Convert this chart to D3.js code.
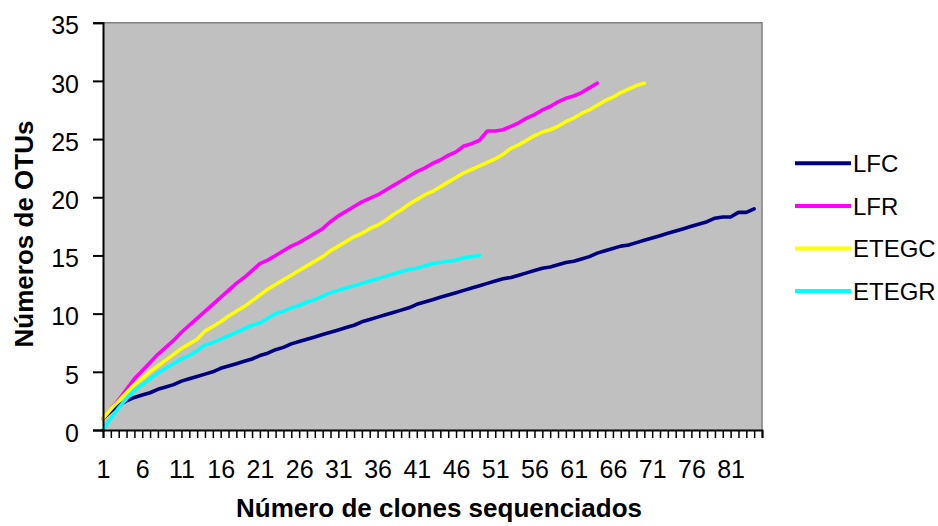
<!DOCTYPE html>
<html>
<head>
<meta charset="utf-8">
<script src="https://cdn.jsdelivr.net/npm/d3@7"></script>
<style>
  html, body { margin: 0; padding: 0; background: #fff; }
  svg { display: block; font-family: "Liberation Sans", Arial, sans-serif; }
</style>
</head>
<body>
<svg id="chart" width="938" height="526"></svg>
<script>
// Rarefaction curves: expected OTUs per number of sequenced clones
const categories = d3.range(1, 86);
const tickLabels = [1, 6, 11, 16, 21, 26, 31, 36, 41, 46, 51, 56, 61, 66, 71, 76, 81];
const yTicks = [0, 5, 10, 15, 20, 25, 30, 35];

const seriesNames = ["LFC", "LFR", "ETEGC", "ETEGR"];
const seriesColors = ["#000080", "#FF00FF", "#FFFF00", "#00FFFF"];

const LFC = [
  1.0, 1.6, 2.1, 2.5, 2.8, 3.0, 3.2, 3.5, 3.7, 3.9,
  4.2, 4.4, 4.6, 4.8, 5.0, 5.3, 5.5, 5.7, 5.9, 6.1,
  6.4, 6.6, 6.9, 7.1, 7.4, 7.6, 7.8, 8.0, 8.2, 8.4,
  8.6, 8.8, 9.0, 9.3, 9.5, 9.7, 9.9, 10.1, 10.3, 10.5,
  10.8, 11.0, 11.2, 11.4, 11.6, 11.8, 12.0, 12.2, 12.4, 12.6,
  12.8, 13.0, 13.1, 13.3, 13.5, 13.7, 13.9, 14.0, 14.2, 14.4,
  14.5, 14.7, 14.9, 15.2, 15.4, 15.6, 15.8, 15.9, 16.1, 16.3,
  16.5, 16.7, 16.9, 17.1, 17.3, 17.5, 17.7, 17.9, 18.2, 18.3,
  18.3, 18.7, 18.7, 19.0
];
const LFR = [
  1.0, 1.8, 2.6, 3.5, 4.4, 5.1, 5.8, 6.5, 7.1, 7.7,
  8.4, 9.0, 9.6, 10.2, 10.8, 11.4, 12.0, 12.6, 13.1, 13.7,
  14.3, 14.6, 15.0, 15.4, 15.8, 16.1, 16.5, 16.9, 17.3, 17.9,
  18.4, 18.8, 19.2, 19.6, 19.9, 20.2, 20.6, 21.0, 21.4, 21.8,
  22.2, 22.5, 22.9, 23.2, 23.6, 23.9, 24.4, 24.6, 24.9, 25.7,
  25.7, 25.8, 26.1, 26.4, 26.8, 27.1, 27.5, 27.8, 28.2, 28.5,
  28.7, 29.0, 29.4, 29.8
];
const ETEGC = [
  1.0, 1.8, 2.5, 3.2, 3.9, 4.4, 5.0, 5.5, 6.0, 6.5,
  7.0, 7.4, 7.8, 8.5, 8.9, 9.3, 9.8, 10.2, 10.6, 11.1,
  11.6, 12.1, 12.5, 12.9, 13.3, 13.7, 14.1, 14.5, 14.9, 15.4,
  15.8, 16.2, 16.6, 16.9, 17.3, 17.6, 18.0, 18.5, 18.9, 19.4,
  19.8, 20.2, 20.5, 20.9, 21.3, 21.7, 22.1, 22.4, 22.7, 23.0,
  23.3, 23.7, 24.2, 24.5, 24.9, 25.3, 25.6, 25.8, 26.1, 26.5,
  26.8, 27.2, 27.5, 27.9, 28.3, 28.6, 29.0, 29.3, 29.6, 29.8
];
const ETEGR = [
  0.0, 1.0, 1.9, 2.7, 3.4, 3.9, 4.4, 4.9, 5.3, 5.7,
  6.1, 6.4, 6.8, 7.3, 7.5, 7.8, 8.1, 8.4, 8.7, 9.0,
  9.2, 9.6, 10.0, 10.2, 10.5, 10.7, 11.0, 11.2, 11.5, 11.8,
  12.0, 12.2, 12.4, 12.6, 12.8, 13.0, 13.2, 13.4, 13.6, 13.8,
  13.9, 14.1, 14.3, 14.4, 14.5, 14.6, 14.8, 14.9, 15.0
];
const seriesValues = [LFC, LFR, ETEGC, ETEGR];

const svg = d3.select("#chart");
const plot = { left: 103, top: 22.7, right: 762, bottom: 430 };

const x = d3.scalePoint().domain(categories).range([plot.left, plot.right]);
const y = d3.scaleLinear().domain([0, 35]).range([plot.bottom, plot.top]);

// plot background and frame
svg.append("rect")
  .attr("x", plot.left).attr("y", plot.top)
  .attr("width", plot.right - plot.left).attr("height", plot.bottom - plot.top)
  .attr("fill", "#C0C0C0");
svg.append("path")
  .attr("d", `M${plot.left},${plot.top}H${plot.right}V${plot.bottom}`)
  .attr("fill", "none").attr("stroke", "#808080").attr("stroke-width", 1.5);

// series lines
const line = d3.line()
  .x((d, i) => x(categories[i]))
  .y(d => y(d));

seriesValues.forEach((vals, k) => {
  svg.append("path")
    .datum(vals)
    .attr("d", line)
    .attr("fill", "none")
    .attr("stroke", seriesColors[k])
    .attr("stroke-width", 3.6)
    .attr("stroke-linejoin", "round")
    .attr("stroke-linecap", "round");
});

// y axis
const yAxis = svg.append("g")
  .attr("transform", `translate(${plot.left},0)`)
  .call(d3.axisLeft(y).tickValues(yTicks).tickSize(10).tickPadding(14));
yAxis.select(".domain").attr("stroke", "#000").attr("stroke-width", 2);
yAxis.selectAll(".tick line").attr("stroke", "#000").attr("stroke-width", 2);
yAxis.selectAll("text")
  .attr("font-size", 25).attr("fill", "#000")
  .attr("font-family", "Liberation Sans, Arial, sans-serif")
  .attr("dy", "0.45em");

// x axis
const xAxis = svg.append("g")
  .attr("transform", `translate(0,${plot.bottom})`)
  .call(d3.axisBottom(x)
    .tickSize(8).tickPadding(22)
    .tickFormat(d => tickLabels.includes(d) ? String(d) : ""));
xAxis.select(".domain").attr("stroke", "#000").attr("stroke-width", 2);
xAxis.selectAll(".tick line").attr("stroke", "#000").attr("stroke-width", 1.5);
xAxis.selectAll("text")
  .attr("font-size", 25).attr("fill", "#000")
  .attr("font-family", "Liberation Sans, Arial, sans-serif");

// axis titles
svg.append("text")
  .attr("x", 439).attr("y", 517)
  .attr("text-anchor", "middle")
  .attr("font-size", 26).attr("font-weight", "bold")
  .text("Número de clones sequenciados");

svg.append("text")
  .attr("transform", "translate(33,234) rotate(-90)")
  .attr("text-anchor", "middle")
  .attr("font-size", 26).attr("font-weight", "bold")
  .text("Números de OTUs");

// legend
const legend = svg.append("g");
seriesNames.forEach((name, k) => {
  const ly = 163.3 + k * 42.6;
  legend.append("line")
    .attr("x1", 795).attr("x2", 851)
    .attr("y1", ly).attr("y2", ly)
    .attr("stroke", seriesColors[k]).attr("stroke-width", 4);
  legend.append("text")
    .attr("x", 853).attr("y", ly)
    .attr("dy", "0.36em")
    .attr("font-size", 24)
    .attr("fill", "#000")
    .text(name);
});
</script>
</body>
</html>
